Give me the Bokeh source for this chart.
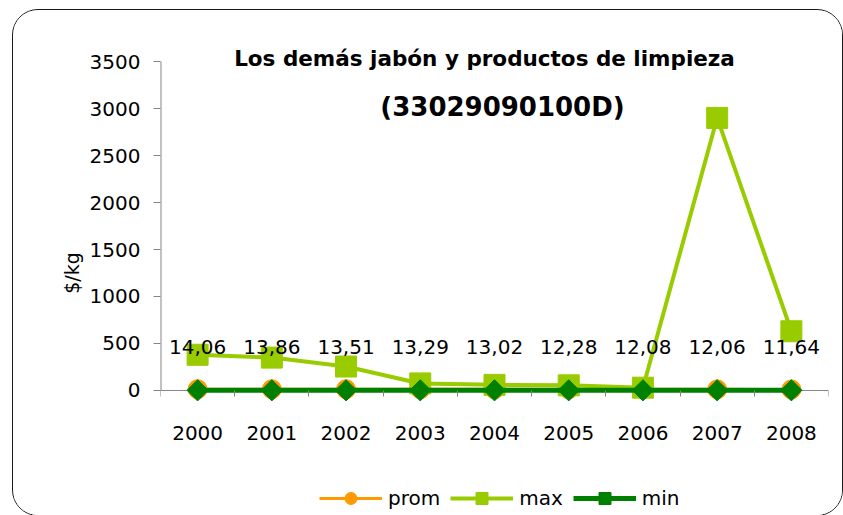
import math
from bokeh.plotting import figure
from bokeh.models import (Label, Legend, LegendItem, ColumnDataSource,
                          FixedTicker, LabelSet, Range1d, Title)
from bokeh.core.properties import value
from bokeh.embed import file_html
from bokeh.resources import INLINE

years = ["2000", "2001", "2002", "2003", "2004", "2005", "2006", "2007", "2008"]
prom = [14.06, 13.86, 13.51, 13.29, 13.02, 12.28, 12.08, 12.06, 11.64]
prom_labels = ["14,06", "13,86", "13,51", "13,29", "13,02", "12,28", "12,08", "12,06", "11,64"]
max_vals = [380, 350, 255, 75, 60, 55, 30, 2900, 630]
min_vals = [2, 2, 2, 2, 2, 2, 2, 2, 2]
y_ticks = [0, 500, 1000, 1500, 2000, 2500, 3000, 3500]

title1 = "Los demás jabón y productos de limpieza"
title2 = "(33029090100D)"
y_label = "$/kg"

FONT = "DejaVu Sans"
BLUE = "#0B3A6E"
C_PROM = "#FF9900"
C_MAX = "#99CC00"
C_MIN = "#008000"
AXIS = "#868686"

n = len(years)
xs = list(range(n))
src = ColumnDataSource(dict(x=xs, year=years, prom=prom, lab=prom_labels,
                            mx=max_vals, mn=min_vals))

p = figure(frame_width=668, frame_height=485, output_backend="svg", toolbar_location=None,
           x_range=Range1d(-0.5, n - 0.5), y_range=Range1d(-1330, 3830),
           min_border_left=147, min_border_right=14, min_border_top=20,
           min_border_bottom=0)
p.border_fill_color = "white"
p.background_fill_color = "white"
p.outline_line_color = None
p.xgrid.visible = False
p.ygrid.visible = False
p.styles = {"margin-left": "12px", "margin-top": "9px",
            "border": "1px solid #1a1a1a", "border-radius": "26px",
            "overflow": "hidden"}

# axis lines drawn at the data origin
p.segment(x0=[-0.5], y0=[0], x1=[n - 0.5], y1=[0], line_color=AXIS, line_width=1)
p.segment(x0=[-0.5], y0=[0], x1=[-0.5], y1=[3500], line_color=AXIS, line_width=2)

xa = p.xaxis[0]
xa.fixed_location = 0
xa.ticker = FixedTicker(ticks=xs, minor_ticks=[i - 0.5 for i in range(n + 1)])
xa.major_label_overrides = {i: y for i, y in enumerate(years)}
xa.major_tick_in = 0
xa.major_tick_out = 0
xa.minor_tick_in = 0
xa.minor_tick_out = 6
xa.minor_tick_line_color = AXIS
xa.axis_line_color = None
xa.major_label_text_font = FONT
xa.major_label_text_font_size = "20px"
xa.major_label_text_color = "black"
xa.major_label_standoff = 30

ya = p.yaxis[0]
ya.ticker = FixedTicker(ticks=y_ticks, minor_ticks=[])
ya.major_tick_in = 0
ya.major_tick_out = 7
ya.major_tick_line_color = AXIS
ya.axis_line_color = None
ya.major_label_text_font = FONT
ya.major_label_text_font_size = "20px"
ya.major_label_text_color = "black"
ya.major_label_standoff = 13

p.add_layout(Title(text=y_label, align="center", offset=50, standoff=8,
                   text_font=FONT, text_font_size="19px",
                   text_font_style="normal", text_color="black"), "left")

# series
l_prom = p.line("x", "prom", source=src, line_color=C_PROM, line_width=3)
s_prom = p.scatter("x", "prom", source=src, marker="circle", size=19,
                   fill_color=C_PROM, line_color=C_PROM)
l_max = p.line("x", "mx", source=src, line_color=C_MAX, line_width=4)
s_max = p.scatter("x", "mx", source=src, marker="square", size=21,
                  fill_color=C_MAX, line_color=C_MAX)
l_min = p.line("x", "mn", source=src, line_color=C_MIN, line_width=5)
s_min = p.scatter("x", "mn", source=src, marker="square", size=15, angle=math.pi / 4,
                  fill_color=C_MIN, line_color=C_MIN)

labels = LabelSet(x="x", y="prom", text="lab", source=src, text_align="center",
                  text_baseline="middle", y_offset=42, text_font=value(FONT),
                  text_font_size="20px", text_color="black")
p.add_layout(labels)

# title
p.add_layout(Label(x=470, y=47, x_units="canvas", y_units="canvas", text=title1,
                   text_align="center", text_baseline="middle", text_font=FONT,
                   text_font_style="bold", text_font_size="21.5px", text_color="black"))
p.add_layout(Label(x=488, y=95, x_units="canvas", y_units="canvas", text=title2,
                   text_align="center", text_baseline="middle", text_font=FONT,
                   text_font_style="bold", text_font_size="26px", text_color="black"))

legend = Legend(items=[LegendItem(label="prom", renderers=[l_prom, s_prom]),
                       LegendItem(label="max", renderers=[l_max, s_max]),
                       LegendItem(label="min", renderers=[l_min, s_min])],
                orientation="horizontal", location=(159, 2),
                glyph_width=63, glyph_height=30, label_standoff=6, spacing=10,
                padding=0, margin=0, border_line_color=None,
                background_fill_alpha=0.0, label_text_font=FONT,
                label_text_font_size="20px", label_text_color="black")
p.add_layout(legend, "center")

html = file_html(p, INLINE)
html = html.replace("<body>", '<body style="background-color:%s;overflow:hidden;">' % BLUE, 1)
open("out.html", "w").write(html)
